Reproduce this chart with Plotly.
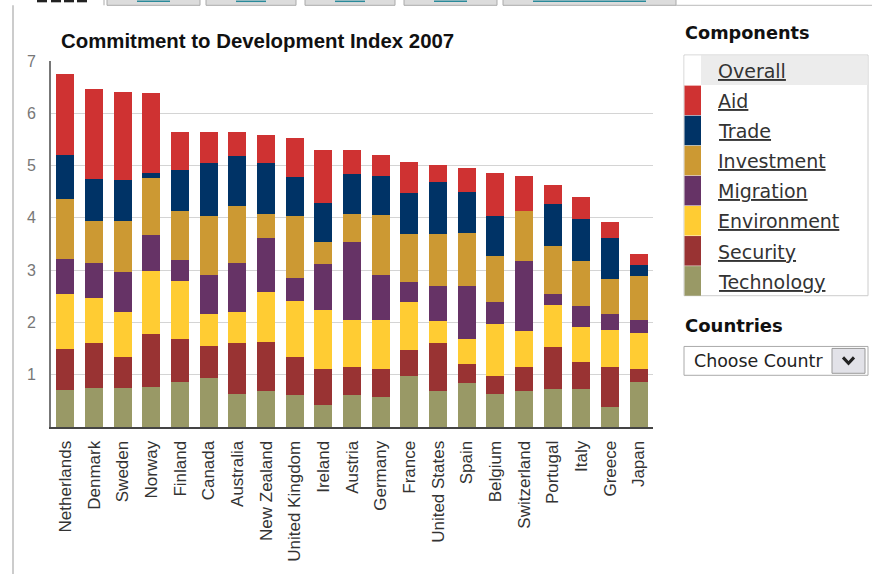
import plotly.graph_objects as go

countries = ["Netherlands", "Denmark", "Sweden", "Norway", "Finland", "Canada", "Australia",
             "New Zealand", "United Kingdom", "Ireland", "Austria", "Germany", "France",
             "United States", "Spain", "Belgium", "Switzerland", "Portugal", "Italy",
             "Greece", "Japan"]

technology  = [0.71, 0.74, 0.74, 0.76, 0.87, 0.94, 0.64, 0.69, 0.61, 0.42, 0.61, 0.58, 0.98, 0.69, 0.85, 0.64, 0.69, 0.72, 0.72, 0.39, 0.87]
security    = [0.78, 0.86, 0.60, 1.02, 0.81, 0.61, 0.96, 0.94, 0.73, 0.69, 0.54, 0.53, 0.49, 0.91, 0.36, 0.34, 0.46, 0.81, 0.52, 0.75, 0.24]
environment = [1.05, 0.87, 0.86, 1.20, 1.12, 0.61, 0.60, 0.96, 1.07, 1.12, 0.89, 0.93, 0.92, 0.42, 0.47, 0.99, 0.68, 0.81, 0.68, 0.72, 0.68]
migration   = [0.67, 0.67, 0.76, 0.70, 0.40, 0.74, 0.94, 1.02, 0.44, 0.89, 1.49, 0.86, 0.38, 0.67, 1.01, 0.42, 1.34, 0.20, 0.39, 0.30, 0.25]
investment  = [1.16, 0.80, 0.98, 1.08, 0.93, 1.13, 1.08, 0.47, 1.18, 0.41, 0.55, 1.16, 0.92, 1.00, 1.03, 0.88, 0.96, 0.92, 0.86, 0.67, 0.85]
trade       = [0.83, 0.80, 0.78, 0.10, 0.78, 1.01, 0.96, 0.96, 0.76, 0.76, 0.76, 0.75, 0.78, 1.00, 0.78, 0.76, 0.00, 0.80, 0.81, 0.78, 0.20]
aid         = [1.55, 1.72, 1.68, 1.53, 0.74, 0.61, 0.47, 0.55, 0.73, 1.00, 0.45, 0.39, 0.60, 0.33, 0.45, 0.83, 0.68, 0.37, 0.42, 0.32, 0.21]

# legend order (top to bottom)
legend_names = ["Overall", "Aid", "Trade", "Investment", "Migration", "Environment", "Security", "Technology"]
legend_colors = ["#FFFFFF", "#CF3232", "#003366", "#CC9933", "#663366", "#FFCC33", "#993333", "#999966"]

# stack order (bottom to top)
stack = [("Technology", technology), ("Security", security), ("Environment", environment),
         ("Migration", migration), ("Investment", investment), ("Trade", trade), ("Aid", aid)]
color_of = dict(zip(legend_names, legend_colors))

title_text = "Commitment to Development Index 2007"

W, H = 872, 574
L, R, T, B = 51, 653, 61, 429


def px(x):
    return (x - L) / (R - L)


def py(y):
    return (B - y) / (B - T)


fig = go.Figure()
for name, vals in stack:
    fig.add_trace(go.Bar(x=countries, y=vals, name=name, marker_color=color_of[name],
                         marker_line_width=0, hoverinfo="skip"))

shapes = []
annotations = []

# page frame and tab strip (tab labels are cut off above the window)
shapes.append(dict(type="line", xref="paper", yref="paper", x0=px(13), x1=px(13), y0=py(5), y1=py(580),
                   line=dict(color="#cccccc", width=2)))
tab_x = [(107, 200), (206, 296), (305, 395), (404, 497), (503, 676)]
for a, b in tab_x:
    shapes.append(dict(type="rect", xref="paper", yref="paper", x0=px(a), x1=px(b), y0=py(5), y1=py(-20),
                       fillcolor="#dcdcdc", line=dict(color="#aaaaaa", width=1)))
    shapes.append(dict(type="line", xref="paper", yref="paper", x0=px(a + 30), x1=px(b - 30),
                       y0=py(1), y1=py(1), line=dict(color="#2a8a9a", width=1.5)))
for xa in (37, 51, 64, 77):
    shapes.append(dict(type="rect", xref="paper", yref="paper", x0=px(xa), x1=px(xa + 10), y0=py(2), y1=py(-5),
                       fillcolor="#222222", line=dict(width=0)))
shapes.append(dict(type="line", xref="paper", yref="paper", x0=px(104), x1=px(104), y0=py(-5), y1=py(5),
                   line=dict(color="#aaaaaa", width=1)))
shapes.append(dict(type="line", xref="paper", yref="paper", x0=px(676), x1=px(880), y0=py(5), y1=py(5),
                   line=dict(color="#bbbbbb", width=1)))

# title
annotations.append(dict(xref="paper", yref="paper", x=px(59), y=py(41), xanchor="left", yanchor="middle",
                        showarrow=False, text="<b>" + title_text + "</b>",
                        font=dict(family="Liberation Sans, Arial", size=20.4, color="#111111")))

# components legend panel
annotations.append(dict(xref="paper", yref="paper", x=px(683), y=py(33), xanchor="left", yanchor="middle",
                        showarrow=False, text="<b>Components</b>",
                        font=dict(family="DejaVu Sans", size=17.7, color="#111111")))
top, rowh = 55, 30.25
shapes.append(dict(type="rect", xref="paper", yref="paper", x0=px(684), x1=px(868), y0=py(top),
                   y1=py(top + rowh * len(legend_names)), line=dict(color="#cccccc", width=1), fillcolor="white",
                   layer="below"))
for i, (nm, col) in enumerate(zip(legend_names, legend_colors)):
    y0 = top + rowh * i
    if i == 0:
        shapes.append(dict(type="rect", xref="paper", yref="paper", x0=px(701), x1=px(867.5), y0=py(y0 + 0.5),
                           y1=py(y0 + rowh), fillcolor="#ececec", line=dict(width=0)))
    shapes.append(dict(type="rect", xref="paper", yref="paper", x0=px(684.5), x1=px(701), y0=py(y0 + 0.5),
                       y1=py(y0 + rowh), fillcolor=col, line=dict(width=0)))
    annotations.append(dict(xref="paper", yref="paper", x=px(716), y=py(y0 + rowh / 2 + 1), xanchor="left",
                            yanchor="middle", showarrow=False, text="<u>" + nm + "</u>",
                            font=dict(family="DejaVu Sans", size=19, color="#333333")))

# countries dropdown
annotations.append(dict(xref="paper", yref="paper", x=px(683), y=py(327), xanchor="left", yanchor="middle",
                        showarrow=False, text="<b>Countries</b>",
                        font=dict(family="DejaVu Sans", size=18, color="#111111")))
shapes.append(dict(type="rect", xref="paper", yref="paper", x0=px(684), x1=px(868), y0=py(348), y1=py(377),
                   line=dict(color="#aaaaaa", width=1), fillcolor="white"))
annotations.append(dict(xref="paper", yref="paper", x=px(692), y=py(363), xanchor="left", yanchor="middle",
                        showarrow=False, text="Choose Countr",
                        font=dict(family="DejaVu Sans", size=17.4, color="#222222")))
shapes.append(dict(type="rect", xref="paper", yref="paper", x0=px(832), x1=px(865), y0=py(350), y1=py(375),
                   line=dict(color="#999999", width=1), fillcolor="#e2e2e8"))
shapes.append(dict(type="path", xref="paper", yref="paper",
                   path="M {} {} L {} {} L {} {}".format(px(843), py(359), px(848.5), py(365), px(854), py(359)),
                   line=dict(color="#222222", width=3)))

fig.update_layout(
    width=W, height=H,
    margin=dict(l=L, r=W - R, t=T, b=H - B, pad=0),
    barmode="stack", bargap=0.37,
    showlegend=False,
    plot_bgcolor="white", paper_bgcolor="white",
    shapes=shapes, annotations=annotations,
    font=dict(family="Liberation Sans, Arial"),
)
fig.update_yaxes(range=[0, 7], tickvals=[1, 2, 3, 4, 5, 6, 7], showgrid=True, gridcolor="#d4d4d4", gridwidth=1,
                 showline=True, linecolor="#777777", linewidth=2, zeroline=False,
                 ticks="", ticklabelstandoff=10, tickfont=dict(family="Liberation Sans, Arial", size=16, color="#777777"))
fig.update_xaxes(showline=True, linecolor="#444444", linewidth=2, showgrid=False, tickangle=-90,
                 ticks="", ticklabelstandoff=5, tickfont=dict(family="Liberation Sans, Arial", size=17, color="#333333"))

fig.write_html("out.html", config={"displayModeBar": False},
               post_script="document.body.style.margin='0px';")
